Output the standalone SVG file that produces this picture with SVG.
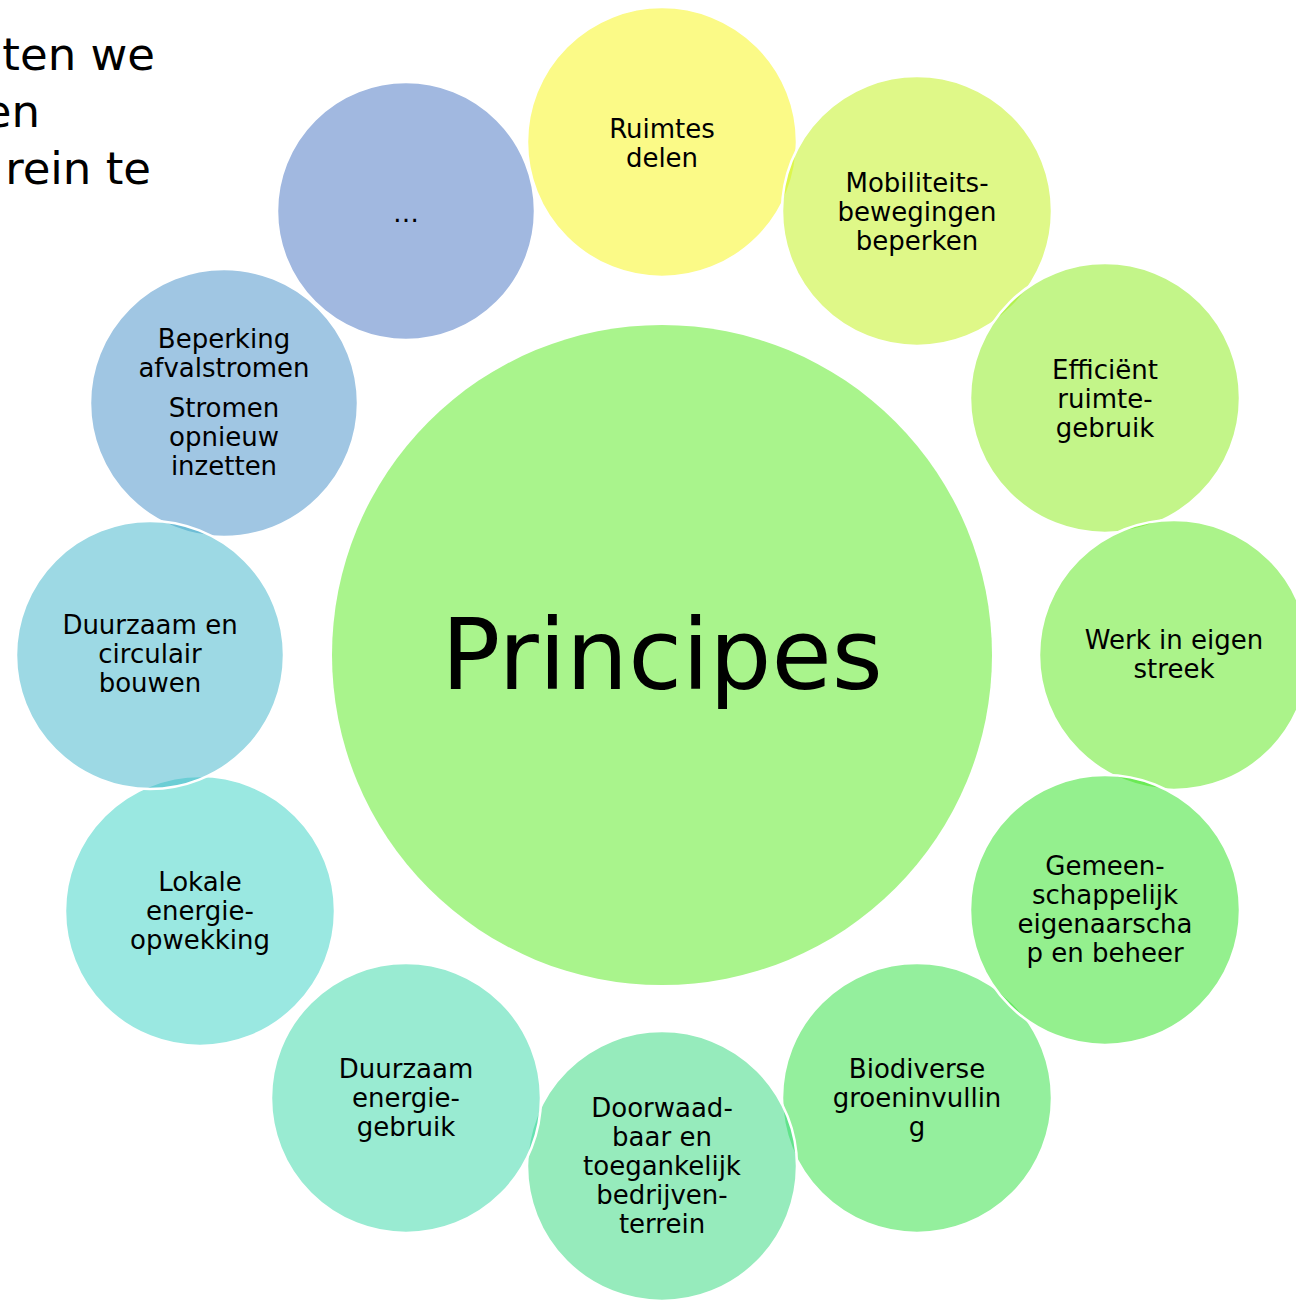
<svg xmlns="http://www.w3.org/2000/svg" width="1296" height="1301" viewBox="0 0 1296 1301">
<style>
.n{stroke:#fff;stroke-width:2.5;fill-opacity:0.5}
.t{font-family:"DejaVu Sans","Verdana",sans-serif;font-size:26px;fill:#000;text-anchor:middle}
.big{font-family:"DejaVu Sans","Verdana",sans-serif;font-size:98px;fill:#000;text-anchor:middle}
.side{font-family:"DejaVu Sans","Verdana",sans-serif;font-size:45px;fill:#000;text-anchor:end}
</style>
<rect width="1296" height="1301" fill="#fff"/>
<g id="title-fragment">
<text class="side" x="155" y="70">ten we</text>
<text class="side" x="40" y="127">en</text>
<text class="side" x="151" y="184">rein te</text>
</g>
<g id="connectors"></g>
<g id="center">
<circle cx="662" cy="655" r="330" fill="#A9F48C"/>
<text class="big" x="662" y="689">Principes</text>
</g>
<g id="n-ruimtes">
<circle class="n" cx="662" cy="142" r="135" fill="#F7F50F"/>
<text class="t" x="662" y="138">Ruimtes</text>
<text class="t" x="662" y="167">delen</text>
</g>
<g id="n-mobiliteit">
<circle class="n" cx="917" cy="211" r="135" fill="#BFF111"/>
<text class="t" x="917" y="192">Mobiliteits-</text>
<text class="t" x="917" y="221">bewegingen</text>
<text class="t" x="917" y="250">beperken</text>
</g>
<g id="n-efficient">
<circle class="n" cx="1105" cy="398" r="135" fill="#87EB13"/>
<text class="t" x="1105" y="379">Efficiënt</text>
<text class="t" x="1105" y="408">ruimte-</text>
<text class="t" x="1105" y="437">gebruik</text>
</g>
<g id="n-werk">
<circle class="n" cx="1174" cy="655" r="135" fill="#57E715"/>
<text class="t" x="1174" y="649">Werk in eigen</text>
<text class="t" x="1174" y="678">streek</text>
</g>
<g id="n-biodivers">
<circle class="n" cx="917" cy="1098" r="135" fill="#29DF3B"/>
<text class="t" x="917" y="1078">Biodiverse</text>
<text class="t" x="917" y="1107">groeninvullin</text>
<text class="t" x="917" y="1136">g</text>
</g>
<g id="n-gemeenschappelijk">
<circle class="n" cx="1105" cy="910" r="135" fill="#29E11D"/>
<text class="t" x="1105" y="875">Gemeen-</text>
<text class="t" x="1105" y="904">schappelijk</text>
<text class="t" x="1105" y="933">eigenaarscha</text>
<text class="t" x="1105" y="962">p en beheer</text>
</g>
<g id="n-doorwaadbaar">
<circle class="n" cx="662" cy="1166" r="135" fill="#2DD779"/>
<text class="t" x="662" y="1117">Doorwaad-</text>
<text class="t" x="662" y="1146">baar en</text>
<text class="t" x="662" y="1175">toegankelijk</text>
<text class="t" x="662" y="1204">bedrijven-</text>
<text class="t" x="662" y="1233">terrein</text>
</g>
<g id="n-energiegebruik">
<circle class="n" cx="406" cy="1098" r="135" fill="#33D7A5"/>
<text class="t" x="406" y="1078">Duurzaam</text>
<text class="t" x="406" y="1107">energie-</text>
<text class="t" x="406" y="1136">gebruik</text>
</g>
<g id="n-lokale">
<circle class="n" cx="200" cy="911" r="135" fill="#35D1C3"/>
<text class="t" x="200" y="891">Lokale</text>
<text class="t" x="200" y="920">energie-</text>
<text class="t" x="200" y="949">opwekking</text>
</g>
<g id="n-beperking">
<circle class="n" cx="224" cy="403" r="134" fill="#418DC7"/>
<text class="t" x="224" y="348">Beperking</text>
<text class="t" x="224" y="377">afvalstromen</text>
<text class="t" x="224" y="417">Stromen</text>
<text class="t" x="224" y="446">opnieuw</text>
<text class="t" x="224" y="475">inzetten</text>
</g>
<g id="n-circulair">
<circle class="n" cx="150" cy="655" r="134" fill="#3BB3C9"/>
<text class="t" x="150" y="634">Duurzaam en</text>
<text class="t" x="150" y="663">circulair</text>
<text class="t" x="150" y="692">bouwen</text>
</g>
<g id="n-more">
<circle class="n" cx="406" cy="211" r="129" fill="#4371C1"/>
<text class="t" x="406" y="222">…</text>
</g>
</svg>
